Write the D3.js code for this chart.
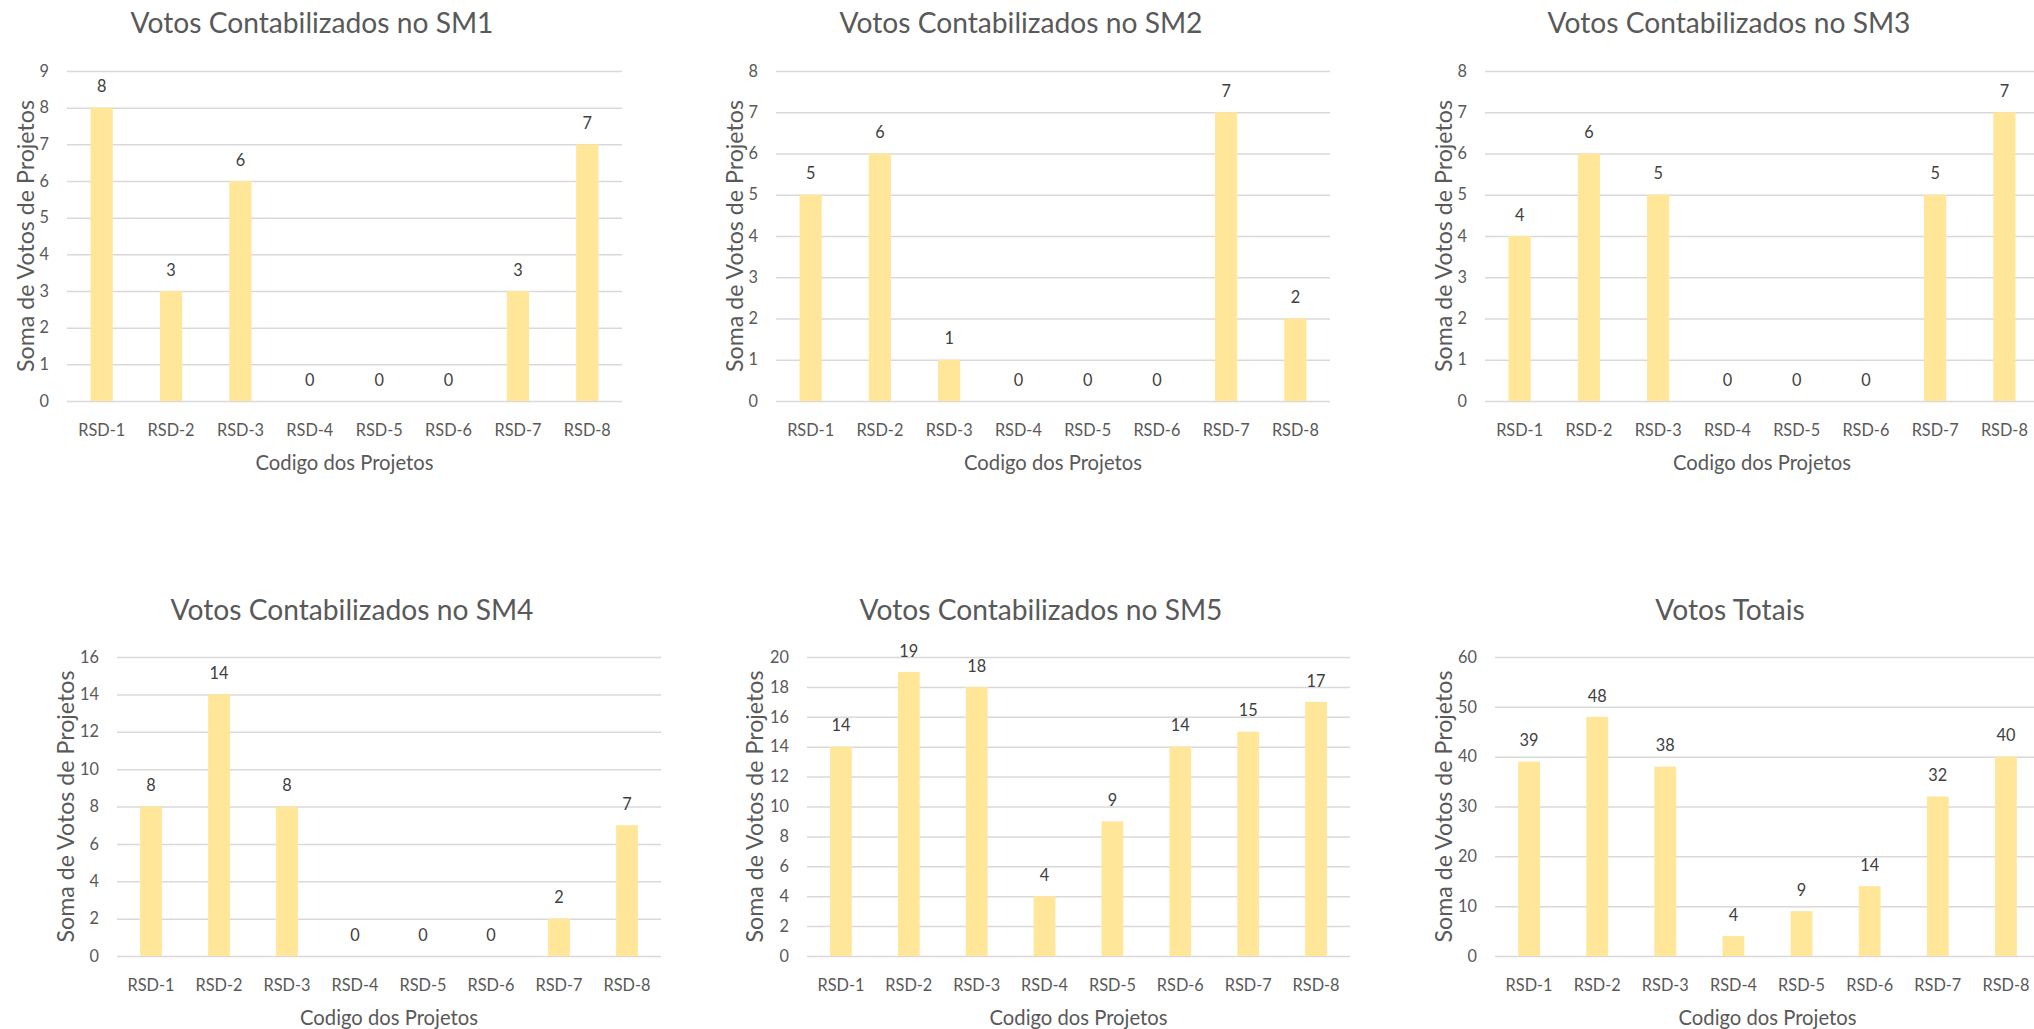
<!DOCTYPE html>
<html>
<head>
<meta charset="utf-8">
<script src="https://cdn.jsdelivr.net/npm/d3@7"></script>
<style>
  body { margin: 0; background: #fff; }
  svg { display: block; font-family: Lato, "Noto Sans", sans-serif; }
</style>
</head>
<body>
<div id="chart"></div>
<script>
const categories = ["RSD-1", "RSD-2", "RSD-3", "RSD-4", "RSD-5", "RSD-6", "RSD-7", "RSD-8"];

const sm1 = [8, 3, 6, 0, 0, 0, 3, 7];
const sm2 = [5, 6, 1, 0, 0, 0, 7, 2];
const sm3 = [4, 6, 5, 0, 0, 0, 5, 7];
const sm4 = [8, 14, 8, 0, 0, 0, 2, 7];
const sm5 = [14, 19, 18, 4, 9, 14, 15, 17];
const totais = [39, 48, 38, 4, 9, 14, 32, 40];

const titles = ["Votos Contabilizados no SM1", "Votos Contabilizados no SM2", "Votos Contabilizados no SM3",
                "Votos Contabilizados no SM4", "Votos Contabilizados no SM5", "Votos Totais"];
const yTicks = [
    [0, 1, 2, 3, 4, 5, 6, 7, 8, 9],
    [0, 1, 2, 3, 4, 5, 6, 7, 8],
    [0, 1, 2, 3, 4, 5, 6, 7, 8],
    [0, 2, 4, 6, 8, 10, 12, 14, 16],
    [0, 2, 4, 6, 8, 10, 12, 14, 16, 18, 20],
    [0, 10, 20, 30, 40, 50, 60]
];
const series = [sm1, sm2, sm3, sm4, sm5, totais];

const X_TITLE = "Codigo dos Projetos";
const Y_TITLE = "Soma de Votos de Projetos";

const WIDTH = 2034;
const HEIGHT = 1029;

// plot boxes for the 6 panels (left, right, top, bottom, title centre, y title baseline)
const layout = [
    {l: 67,   r: 622,  t: 71,  b: 401, tx: 312,  ty: 23,  yx: 34},
    {l: 776,  r: 1330, t: 71,  b: 401, tx: 1021, ty: 23,  yx: 743},
    {l: 1485, r: 2039, t: 71,  b: 401, tx: 1729, ty: 23,  yx: 1452},
    {l: 117,  r: 661,  t: 657, b: 956, tx: 352,  ty: 610, yx: 74},
    {l: 807,  r: 1350, t: 657, b: 956, tx: 1041, ty: 610, yx: 763},
    {l: 1495, r: 2040, t: 657, b: 956, tx: 1730, ty: 610, yx: 1452}
];

const svg = d3.select("#chart")
    .append("svg")
    .attr("width", WIDTH)
    .attr("height", HEIGHT);

// Lato is wider than the original Calibri, so size fonts from the widths seen in the picture
function fitSize(str, target) {
    const t = svg.append("text").attr("font-size", "100px").text(str);
    const w = t.node().getComputedTextLength();
    t.remove();
    return 100 * target / w;
}
const TITLE_FS = fitSize("Votos Contabilizados no SM1", 363);
const TICK_FS = fitSize("RSD-1", 47);
const XT_FS = fitSize(X_TITLE, 178);
const YT_FS = fitSize(Y_TITLE, 272);

series.forEach((values, i) => {
    const box = layout[i];
    const ticks = yTicks[i];

    const xScale = d3.scaleBand()
        .domain(categories)
        .range([box.l, box.r])
        .paddingInner(0.68)
        .paddingOuter(0.34);
    const yScale = d3.scaleLinear()
        .domain([0, d3.max(ticks)])
        .range([box.b, box.t]);

    const g = svg.append("g");

    // gridlines + y labels
    const yAxis = g.append("g")
        .attr("transform", "translate(" + box.l + ",0)")
        .call(d3.axisLeft(yScale)
            .tickValues(ticks)
            .tickSize(-(box.r - box.l))
            .tickPadding(18)
            .tickFormat(d3.format("d")));
    yAxis.select(".domain").remove();
    yAxis.selectAll("line").attr("stroke", "#d9d9d9").attr("stroke-width", 1.5);
    yAxis.selectAll("text")
        .attr("fill", "#595959")
        .attr("font-size", TICK_FS + "px")
        .attr("font-family", "Lato, sans-serif");

    // x labels
    const xAxis = g.append("g")
        .attr("transform", "translate(0," + box.b + ")")
        .call(d3.axisBottom(xScale).tickSize(0).tickPadding(29 - 0.36 * TICK_FS));
    xAxis.select(".domain").remove();
    xAxis.selectAll("text")
        .attr("fill", "#595959")
        .attr("font-size", TICK_FS + "px")
        .attr("font-family", "Lato, sans-serif");

    g.selectAll("rect")
        .data(values)
        .enter()
        .append("rect")
        .attr("x", (d, j) => xScale(categories[j]))
        .attr("y", (d) => yScale(d))
        .attr("width", xScale.bandwidth())
        .attr("height", (d) => box.b - yScale(d))
        .attr("fill", "#ffe699");

    g.selectAll(".lbl")
        .data(values)
        .enter()
        .append("text")
        .attr("class", "lbl")
        .attr("x", (d, j) => xScale(categories[j]) + xScale.bandwidth() / 2)
        .attr("y", (d) => yScale(d) - 21 + 0.35 * TICK_FS)
        .attr("text-anchor", "middle")
        .attr("font-size", TICK_FS + "px")
        .attr("fill", "#404040")
        .text((d) => d);

    g.append("text")
        .attr("x", box.tx)
        .attr("y", box.ty + 0.35 * TITLE_FS)
        .attr("text-anchor", "middle")
        .attr("font-size", TITLE_FS + "px")
        .attr("fill", "#595959")
        .text(titles[i]);

    g.append("text")
        .attr("x", (box.l + box.r) / 2)
        .attr("y", box.b + 62 + 0.35 * XT_FS)
        .attr("text-anchor", "middle")
        .attr("font-size", XT_FS + "px")
        .attr("fill", "#595959")
        .text(X_TITLE);

    g.append("text")
        .attr("transform", "translate(" + box.yx + "," + ((box.t + box.b) / 2) + ") rotate(-90)")
        .attr("text-anchor", "middle")
        .attr("font-size", YT_FS + "px")
        .attr("fill", "#595959")
        .text(Y_TITLE);
});
</script>
</body>
</html>
